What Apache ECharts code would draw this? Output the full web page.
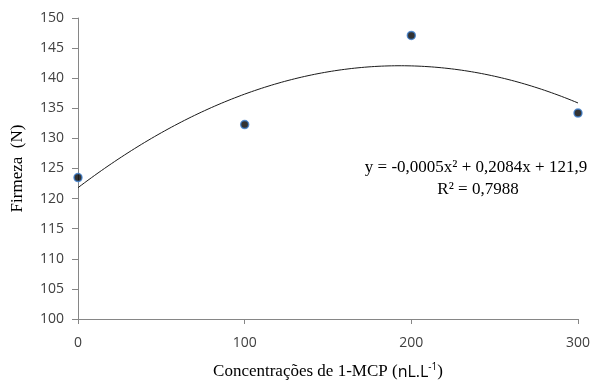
<!DOCTYPE html>
<html>
<head>
<meta charset="utf-8">
<script src="https://cdn.jsdelivr.net/npm/echarts@6/dist/echarts.min.js"></script>
<style>
  html, body { margin: 0; padding: 0; background: #fff; }
  #chart { width: 600px; height: 385px; }
</style>
</head>
<body>
<div id="chart"></div>
<script>
// 1-MCP concentrations (nL.L-1) and measured firmness (N)
const concentrations = [0, 100, 200, 300];
const firmness = [123.5, 132.3, 147.1, 134.2];
const yTicks = { min: 100, max: 150, step: 5 };
const xTicks = { min: 0, max: 300, step: 100 };
const equationText = 'y = -0,0005x² + 0,2084x + 121,9';
const r2Text = 'R² = 0,7988';

// least-squares quadratic fit of the measured points (trend line)
function quadFit(xs, ys) {
  const n = xs.length;
  let s = [0, 0, 0, 0, 0], t = [0, 0, 0];
  for (let i = 0; i < n; i++) {
    let p = 1;
    for (let k = 0; k <= 4; k++) { s[k] += p; if (k <= 2) t[k] += p * ys[i]; p *= xs[i]; }
  }
  const M = [[s[0], s[1], s[2], t[0]], [s[1], s[2], s[3], t[1]], [s[2], s[3], s[4], t[2]]];
  for (let c = 0; c < 3; c++) {
    for (let r = c + 1; r < 3; r++) {
      const f = M[r][c] / M[c][c];
      for (let k = c; k < 4; k++) M[r][k] -= f * M[c][k];
    }
  }
  const b = [0, 0, 0];
  for (let r = 2; r >= 0; r--) {
    let v = M[r][3];
    for (let k = r + 1; k < 3; k++) v -= M[r][k] * b[k];
    b[r] = v / M[r][r];
  }
  return b; // c0 + c1 x + c2 x^2
}
const coef = quadFit(concentrations, firmness);
const trend = [];
for (let x = xTicks.min; x <= xTicks.max; x += 2) {
  trend.push([x, coef[0] + coef[1] * x + coef[2] * x * x]);
}

const axisGray = '#868686';
const labelGray = '#404040';
const chart = echarts.init(document.getElementById('chart'), null, { renderer: 'canvas' });
chart.setOption({
  animation: false,
  grid: { left: 78, right: 22, top: 18, bottom: 66 },
  xAxis: {
    type: 'value',
    min: xTicks.min, max: xTicks.max, interval: xTicks.step,
    axisLine: { lineStyle: { color: axisGray, width: 1 } },
    axisTick: { show: true, length: 5, lineStyle: { color: axisGray } },
    axisLabel: { color: labelGray, fontFamily: 'Open Sans', fontSize: 14, margin: 17 },
    splitLine: { show: false }
  },
  yAxis: {
    type: 'value',
    min: yTicks.min, max: yTicks.max, interval: yTicks.step,
    name: 'Firmeza  (N)',
    nameLocation: 'middle',
    nameGap: 52,
    nameTextStyle: { fontFamily: 'Liberation Serif', fontSize: 17, color: '#000' },
    axisLine: { show: true, lineStyle: { color: axisGray, width: 1 } },
    axisTick: { show: true, length: 6, lineStyle: { color: axisGray } },
    axisLabel: { color: labelGray, fontFamily: 'Open Sans', fontSize: 14, margin: 14 },
    splitLine: { show: false }
  },
  series: [
    {
      type: 'line',
      data: trend,
      showSymbol: false,
      smooth: false,
      lineStyle: { color: '#1a1a1a', width: 1 },
      z: 2
    },
    {
      type: 'scatter',
      data: concentrations.map((x, i) => [x, firmness[i]]),
      symbol: 'circle',
      symbolSize: 8,
      itemStyle: { color: '#000', borderColor: '#3d7fd0', borderWidth: 1.5 },
      z: 3
    }
  ],
  graphic: [
    {
      type: 'text',
      style: {
        x: 328, y: 372,
        text: '{s|Concentrações de 1-MCP (}{c|nL.L}{sup|-1}{s|)}',
        textAlign: 'center',
        textVerticalAlign: 'middle',
        rich: {
          s: { fontFamily: 'Liberation Serif', fontSize: 17, fill: '#000' },
          c: { fontFamily: 'Open Sans', fontSize: 16, fill: '#000' },
          sup: { fontFamily: 'Open Sans', fontSize: 10, fill: '#000', verticalAlign: 'top', padding: [0, 0, 9, 0] }
        }
      }
    },
    {
      type: 'text',
      style: {
        x: 476, y: 168,
        text: equationText,
        textAlign: 'center', textVerticalAlign: 'middle',
        fontFamily: 'Liberation Serif', fontSize: 17, fill: '#000'
      }
    },
    {
      type: 'text',
      style: {
        x: 478, y: 190,
        text: r2Text,
        textAlign: 'center', textVerticalAlign: 'middle',
        fontFamily: 'Liberation Serif', fontSize: 17, fill: '#000'
      }
    }
  ]
});
</script>
</body>
</html>
